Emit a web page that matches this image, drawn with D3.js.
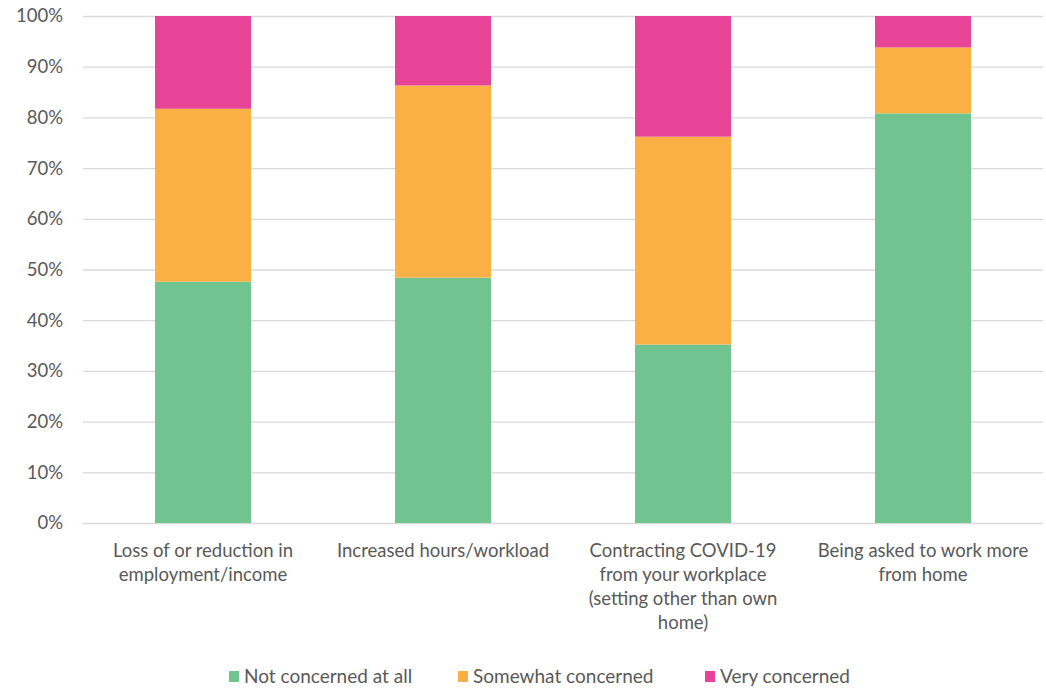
<!DOCTYPE html>
<html>
<head>
<meta charset="utf-8">
<script src="https://cdn.jsdelivr.net/npm/d3@7"></script>
<style>
  body { margin: 0; background: #fff; }
  text { font-family: Lato, "Open Sans", sans-serif; fill: #595959; }
</style>
</head>
<body>
<svg class="chart" width="1046" height="688"></svg>
<script>
// chart data
const categories = [
  ["Loss of or reduction in", "employment/income"],
  ["Increased hours/workload"],
  ["Contracting COVID-19", "from your workplace", "(setting other than own", "home)"],
  ["Being asked to work more", "from home"]
];
const seriesNames = ["Not concerned at all", "Somewhat concerned", "Very concerned"];
const notConcerned = [47.6, 48.4, 35.2, 80.8];
const somewhatConcerned = [34.1, 37.9, 41.0, 13.0];
const veryConcerned = [18.3, 13.7, 23.8, 6.2];
const yTicks = [0, 10, 20, 30, 40, 50, 60, 70, 80, 90, 100];
const colors = ["#70c48f", "#fbb045", "#e84497"];

//svg chart variables
var margin = {top: 16, left: 83, right: 3, bottom: 165};
var width = 1046 - margin.left - margin.right;
var height = 688 - margin.top - margin.bottom;

var chart = d3.select(".chart");
var g = chart.append("g")
    .attr("transform", "translate(" + margin.left + "," + margin.top + ")");

var x = d3.scaleBand()
    .domain(d3.range(categories.length))
    .range([0, width])
    .paddingInner(0.6)
    .paddingOuter(0.3);
var y = d3.scaleLinear().domain([0, 100]).range([height, 0]);

// gridlines
g.append("g")
    .attr("class", "grid")
    .call(d3.axisLeft(y).tickValues(yTicks).tickSize(-width).tickFormat(""))
    .call(function (s) { s.select(".domain").remove(); })
    .selectAll("line")
    .attr("stroke", "#d9d9d9")
    .attr("stroke-width", 1.3);

// y labels
var yAxis = g.append("g")
    .call(d3.axisLeft(y).tickValues(yTicks).tickSize(0).tickPadding(20)
        .tickFormat(function (d) { return d + "%"; }));
yAxis.select(".domain").remove();
yAxis.selectAll("text")
    .style("font-size", "18.5px")
    .attr("fill", "#595959");

// stacked data
var rows = categories.map(function (c, i) {
    return {i: i, a: notConcerned[i], b: somewhatConcerned[i], c: veryConcerned[i]};
});
var stack = d3.stack().keys(["a", "b", "c"]);
var layers = stack(rows);

g.selectAll(".layer")
    .data(layers)
    .enter().append("g")
    .attr("class", "layer")
    .attr("fill", function (d, i) { return colors[i]; })
    .selectAll("rect")
    .data(function (d) { return d; })
    .enter().append("rect")
    .attr("x", function (d) { return x(d.data.i); })
    .attr("y", function (d) { return y(d[1]); })
    .attr("height", function (d) { return y(d[0]) - y(d[1]); })
    .attr("width", x.bandwidth());

// category labels
var catLabels = g.selectAll(".cat")
    .data(categories)
    .enter().append("text")
    .attr("class", "cat")
    .attr("text-anchor", "middle")
    .attr("transform", function (d, i) {
        return "translate(" + (x(i) + x.bandwidth() / 2) + "," + (height + 34) + ")";
    })
    .style("font-size", "18.5px");
catLabels.selectAll("tspan")
    .data(function (d) { return d; })
    .enter().append("tspan")
    .attr("x", 0)
    .attr("dy", function (d, i) { return i === 0 ? 0 : 24; })
    .text(function (d) { return d; });

// legend
var legendX = [229, 458, 705];
var legend = chart.append("g").attr("class", "legend");
var item = legend.selectAll("g")
    .data(seriesNames)
    .enter().append("g")
    .attr("transform", function (d, i) { return "translate(" + legendX[i] + ",676)"; });
item.append("rect")
    .attr("x", 0).attr("y", -5)
    .attr("width", 10).attr("height", 11)
    .attr("fill", function (d, i) { return colors[i]; });
item.append("text")
    .attr("x", 15).attr("y", 7)
    .style("font-size", "19px")
    .text(function (d) { return d; });
</script>
</body>
</html>
